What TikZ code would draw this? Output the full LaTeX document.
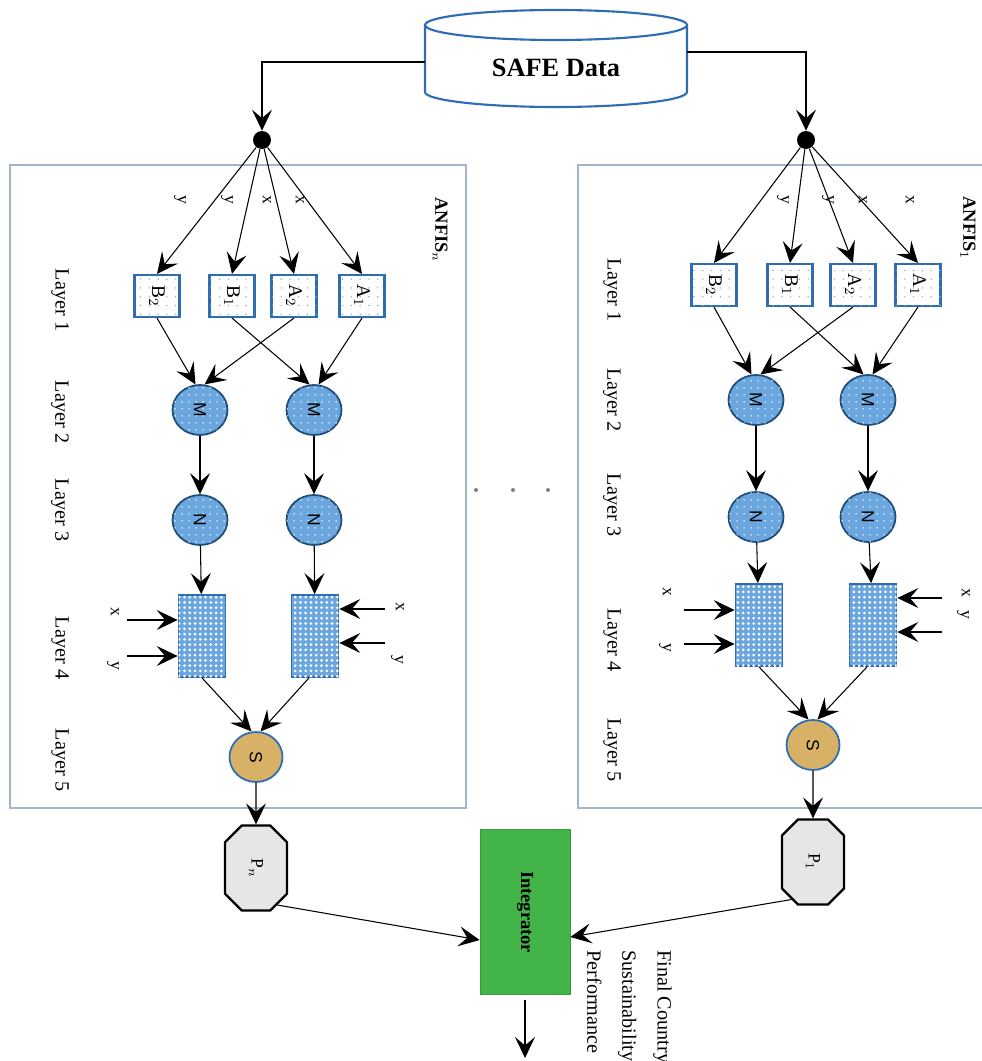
\documentclass[tikz,border=0pt]{standalone}
\usepackage{graphicx}
\usepackage{fontspec}
\setmainfont{Liberation Serif}
\setsansfont{Liberation Sans}
\usepackage{tikz}
\usetikzlibrary{arrows.meta,positioning,shapes.geometric,shapes.misc,patterns.meta}
\definecolor{anfisblue}{HTML}{2E6DB4}
\definecolor{anfisdark}{HTML}{1F4E79}
\definecolor{anfisfill}{HTML}{6CA6DE}
\definecolor{anfisrule}{HTML}{A3B6C9}
\definecolor{anfistan}{HTML}{D6B166}
\definecolor{anfisgreen}{HTML}{42B448}
\definecolor{anfisgray}{HTML}{E6E6E6}
\newcommand{\rotlab}[1]{\rotatebox{-90}{#1}}

\begin{document}
\begin{tikzpicture}[x=0.02cm,y=-0.02cm,
  arr/.style={-{Stealth[length=4.2mm,width=4mm,inset=1.7mm]},line width=0.6pt},
  panel/.style={draw=anfisrule,line width=0.9pt},
  junction/.style={circle,fill=black,minimum size=0.36cm,inner sep=0pt},
  mfbox/.style={rectangle,draw=anfisblue,line width=1.2pt,fill=white,minimum width=0.9cm,minimum height=0.84cm,inner sep=0pt,
    postaction={pattern={Dots[distance=5pt,radius=0.45pt]},pattern color=anfisblue!55},font=\fontsize{11}{13}\selectfont},
  neuron/.style={ellipse,draw=anfisdark,line width=1pt,fill=anfisfill,minimum width=1.1cm,minimum height=1cm,inner sep=0pt,
    postaction={pattern={Dots[distance=4pt,radius=0.55pt]},pattern color=white!85!anfisfill},font=\sffamily\fontsize{10}{12}\selectfont},
  rulebox/.style={rectangle,draw=anfisblue,line width=1pt,fill=anfisfill,minimum width=0.94cm,minimum height=1.64cm,inner sep=0pt,
    postaction={pattern={Dots[distance=3pt,radius=0.85pt]},pattern color=white}},
  sumnode/.style={ellipse,draw=anfisblue,line width=1pt,fill=anfistan,minimum width=1.06cm,minimum height=1cm,inner sep=0pt,
    font=\sffamily\fontsize{10}{12}\selectfont},
  outbox/.style={chamfered rectangle,chamfered rectangle xsep=0.3cm,chamfered rectangle ysep=0.4cm,draw=black,line width=1.3pt,
    fill=anfisgray,minimum width=1.24cm,minimum height=1.7cm,inner sep=0pt,font=\fontsize{10}{12}\selectfont},
  integ/.style={rectangle,fill=anfisgreen,draw=anfisgreen!85!black,minimum width=1.8cm,minimum height=3.3cm,
    font=\bfseries\fontsize{10.5}{12}\selectfont},
  layer/.style={rotate=-90,font=\fontsize{11.5}{13}\selectfont},
  inlbl/.style={rotate=-90,font=\fontsize{10}{11}\selectfont,inner sep=1pt},
  title/.style={rotate=-90,font=\bfseries\fontsize{10.5}{12}\selectfont}
]
\useasboundingbox (0,0) rectangle (982,1061);

% database on top
\draw[draw=anfisblue,line width=1.2pt,fill=white] (425,25) -- (425,92)
  arc[start angle=180,end angle=360,x radius=2.62cm,y radius=0.3cm] -- (687,25);
\draw[draw=anfisblue,line width=1.2pt,fill=white] (556,25) ellipse[x radius=2.62cm,y radius=0.3cm];
\node[minimum width=5.24cm,minimum height=1.2cm,inner sep=0pt,font=\bfseries\fontsize{15}{17}\selectfont] (safe) at (556,68) {SAFE Data};

% the two ANFIS frames
\draw[panel] (10,165) rectangle (466,808);
\draw[panel] (990,165) -- (578,165) -- (578,808) -- (990,808);
\node[title] (anfisN) at (440,230) {ANFIS$_n$};
\node[title] (anfis1) at (968,228) {ANFIS$_1$};

\node[junction] (dL) at (262,140) {};
\node[junction] (dR) at (806,140) {};
\draw[arr] ([yshift=0.12cm]safe.west) -| (dL);
\draw[arr] ([yshift=0.32cm]safe.east) -| (dR);

% ---- left network (ANFIS n)
\node[layer] (l1L) at (60,300) {Layer 1};
\node[layer] (l2L) at (60,412) {Layer 2};
\node[layer] (l3L) at (60,510) {Layer 3};
\node[layer] (l4L) at (60,648) {Layer 4};
\node[layer] (l5L) at (60,760) {Layer 5};

\node[mfbox] (b2L) at (157,296) {\rotlab{B$_2$}};
\node[mfbox] (b1L) at (232,296) {\rotlab{B$_1$}};
\node[mfbox] (a2L) at (294,296) {\rotlab{A$_2$}};
\node[mfbox] (a1L) at (362,296) {\rotlab{A$_1$}};
\draw[arr] (dL) -- (b2L.north);
\draw[arr] (dL) -- (b1L.north);
\draw[arr] (dL) -- (a2L.north);
\draw[arr] (dL) -- (a1L.north);
\node[inlbl] at (180,200) {y};
\node[inlbl] at (227,200) {y};
\node[inlbl] at (267,200) {x};
\node[inlbl] at (300,200) {x};

\node[neuron] (m1L) at (200,410) {\rotlab{M}};
\node[neuron] (m2L) at (314,410) {\rotlab{M}};
\draw[arr] (b2L.south) -- (m1L.100);
\draw[arr] (a2L.south) -- (m1L.80);
\draw[arr] (b1L.south) -- (m2L.100);
\draw[arr] (a1L.south) -- (m2L.80);

\node[neuron] (n1L) at (200,520) {\rotlab{N}};
\node[neuron] (n2L) at (314,520) {\rotlab{N}};
\draw[arr] (m1L) -- (n1L);
\draw[arr] (m2L) -- (n2L);

\node[rulebox] (r1L) at (202,636) {};
\node[rulebox] (r2L) at (315,636) {};
\draw[arr] (n1L) -- (r1L);
\draw[arr] (n2L) -- (r2L);
\coordinate (x1L) at (127,620);
\coordinate (y1L) at (127,656);
\coordinate (x2L) at (385,609);
\coordinate (y2L) at (385,643);
\draw[arr] (x1L) -- (x1L -| r1L.west);
\draw[arr] (y1L) -- (y1L -| r1L.west);
\draw[arr] (x2L) -- (x2L -| r2L.east);
\draw[arr] (y2L) -- (y2L -| r2L.east);
\node[inlbl] at (115,612) {x};
\node[inlbl] at (113,666) {y};
\node[inlbl] at (400,607) {x};
\node[inlbl] at (397,660) {y};

\node[sumnode] (sL) at (256,757) {\rotlab{S}};
\draw[arr] (r1L.south) -- (sL.100);
\draw[arr] ([xshift=-0.12cm]r2L.south) -- (sL.80);

% ---- right network (ANFIS 1)
\node[layer] (l1R) at (612,290) {Layer 1};
\node[layer] (l2R) at (612,400) {Layer 2};
\node[layer] (l3R) at (612,505) {Layer 3};
\node[layer] (l4R) at (612,640) {Layer 4};
\node[layer] (l5R) at (612,750) {Layer 5};

\node[mfbox] (b2R) at (714,285) {\rotlab{B$_2$}};
\node[mfbox] (b1R) at (790,285) {\rotlab{B$_1$}};
\node[mfbox] (a2R) at (853,285) {\rotlab{A$_2$}};
\node[mfbox] (a1R) at (918,285) {\rotlab{A$_1$}};
\draw[arr] (dR) -- (b2R.north);
\draw[arr] (dR) -- (b1R.north);
\draw[arr] (dR) -- (a2R.north);
\draw[arr] (dR) -- (a1R.north);
\node[inlbl] at (783,200) {y};
\node[inlbl] at (828,200) {y};
\node[inlbl] at (863,200) {x};
\node[inlbl] at (910,200) {x};

\node[neuron] (m1R) at (756,400) {\rotlab{M}};
\node[neuron] (m2R) at (868,400) {\rotlab{M}};
\draw[arr] (b2R.south) -- (m1R.100);
\draw[arr] (a2R.south) -- (m1R.80);
\draw[arr] (b1R.south) -- (m2R.100);
\draw[arr] (a1R.south) -- (m2R.80);

\node[neuron] (n1R) at (756,517) {\rotlab{N}};
\node[neuron] (n2R) at (868,517) {\rotlab{N}};
\draw[arr] (m1R) -- (n1R);
\draw[arr] (m2R) -- (n2R);

\node[rulebox] (r1R) at (759,625) {};
\node[rulebox] (r2R) at (873,625) {};
\draw[arr] (n1R) -- (r1R);
\draw[arr] (n2R) -- (r2R);
\coordinate (x1R) at (684,610);
\coordinate (y1R) at (684,644);
\coordinate (x2R) at (942,598);
\coordinate (y2R) at (942,632);
\draw[arr] (x1R) -- (x1R -| r1R.west);
\draw[arr] (y1R) -- (y1R -| r1R.west);
\draw[arr] (x2R) -- (x2R -| r2R.east);
\draw[arr] (y2R) -- (y2R -| r2R.east);
\node[inlbl] at (667,592) {x};
\node[inlbl] at (665,648) {y};
\node[inlbl] at (966,593) {x};
\node[inlbl] at (963,615) {y};

\node[sumnode] (sR) at (813,745) {\rotlab{S}};
\draw[arr] (r1R.south) -- (sR.100);
\draw[arr] ([xshift=-0.12cm]r2R.south) -- (sR.80);

% dots between the frames
\fill[gray] (476,490) circle[radius=0.04cm];
\fill[gray] (513,490) circle[radius=0.04cm];
\fill[gray] (548,490) circle[radius=0.04cm];

% outputs and integrator
\node[outbox] (pn) at (256,868) {\rotlab{P$_n$}};
\node[outbox] (p1) at (813,862) {\rotlab{P$_1$}};
\draw[arr] (sL) -- (pn);
\draw[arr] (sR) -- (p1);

\node[integ] (integ) at (525,912) {\rotlab{Integrator}};
\draw[arr] (pn.-60) -- ([yshift=-0.56cm]integ.west);
\draw[arr] (p1.240) -- ([yshift=-0.5cm]integ.east);
\coordinate (final) at (525,1058);
\draw[arr] ([yshift=-0.1cm]integ.south) -- (final);
\node[rotate=-90,anchor=north west,align=left,inner sep=0pt,font=\fontsize{11.5}{20}\selectfont] (perf) at (672,950)
  {Final Country\\Sustainability\\Performance};
\end{tikzpicture}
\end{document}
